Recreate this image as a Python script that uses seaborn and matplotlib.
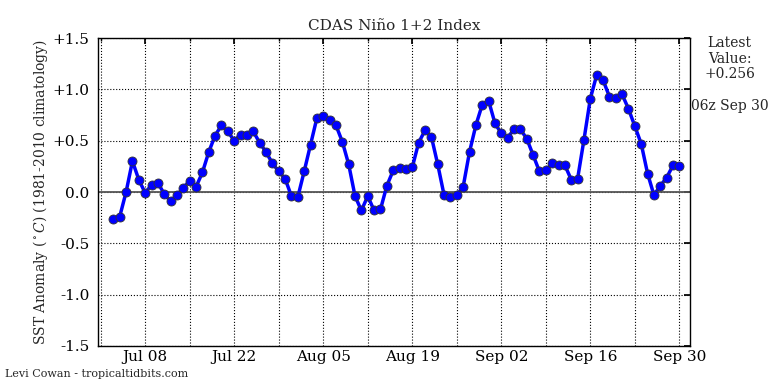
import numpy as np
import pandas as pd
import seaborn as sns
import matplotlib.pyplot as plt
import matplotlib.dates as mdates
import matplotlib.ticker as mticker

# daily Nino 1+2 anomalies, Jul 03 -> Sep 30
startDate = '2019-07-03'
anomaly = [-0.26, -0.24, 0.00, 0.30, 0.12, -0.01, 0.07, 0.09, -0.02, -0.09,
           -0.03, 0.04, 0.11, 0.05, 0.19, 0.39, 0.55, 0.65, 0.59, 0.50,
           0.56, 0.56, 0.59, 0.48, 0.39, 0.28, 0.20, 0.13, -0.04,
           -0.05, 0.20, 0.46, 0.72, 0.74, 0.70, 0.65, 0.49, 0.27, -0.04,
           -0.18, -0.04, -0.18, -0.17, 0.06, 0.21, 0.23, 0.22, 0.24, 0.48,
           0.60, 0.54, 0.27, -0.03, -0.05, -0.03, 0.05, 0.39, 0.65, 0.85,
           0.89,
           0.67, 0.57, 0.53, 0.61, 0.61, 0.52, 0.36, 0.20, 0.21, 0.28,
           0.26, 0.26, 0.12, 0.13, 0.51, 0.91, 1.14, 1.09, 0.93, 0.92,
           0.95, 0.81, 0.64, 0.47, 0.18, -0.03, 0.06, 0.14, 0.26, 0.256]
yTicks = [-1.5, -1.0, -0.5, 0.0, 0.5, 1.0, 1.5]
yTickLabels = ['-1.5', '-1.0', '-0.5', '0.0', '+0.5', '+1.0', '+1.5']
latestValue = '+0.256'
latestTime = '06z Sep 30'

df = pd.DataFrame({'date': pd.date_range(startDate, periods=len(anomaly), freq='D'),
                   'anomaly': anomaly})

sns.set_theme(style='white')
plt.rcParams['font.family'] = ['DejaVu Serif']
plt.rcParams['mathtext.fontset'] = 'dejavuserif'

fig = plt.figure(figsize=(7.68, 3.84), dpi=100)
ax = fig.add_axes([0.1276, 0.099, 0.7708, 0.802])

ax.axhline(0, color='#555555', lw=1.3, zorder=1)
sns.lineplot(data=df, x='date', y='anomaly', ax=ax, color='#0000ff', lw=2.5,
             marker='o', markersize=6.5, markerfacecolor='#0000ff',
             markeredgecolor='#333333', markeredgewidth=0.6, zorder=3)

ax.set_xlim(pd.Timestamp('2019-06-30 14:00'), pd.Timestamp('2019-10-01 16:00'))
ax.set_ylim(-1.5, 1.5)
ax.set_yticks(yTicks)
ax.set_yticklabels(yTickLabels)

# labelled ticks every 14 days from Jul 08, grid every 7 days
labelDates = pd.date_range('2019-07-08', '2019-09-30', freq='14D')
ax.set_xticks(labelDates)
ax.set_xticklabels([d.strftime('%b %d') for d in labelDates])
ax.set_xticks(pd.date_range('2019-07-01', '2019-10-01', freq='7D'), minor=True)
ax.yaxis.set_minor_locator(mticker.MultipleLocator(0.5))

ax.grid(True, which='both', axis='x', color='black', linestyle=':', lw=0.8)
ax.grid(True, which='major', axis='y', color='black', linestyle=':', lw=0.8)

ax.tick_params(axis='both', which='both', direction='in', top=True, right=True,
               labelsize=11, colors='black')
ax.tick_params(axis='x', pad=3)
ax.tick_params(axis='y', pad=6)
ax.tick_params(which='major', length=4)
ax.tick_params(which='minor', length=2)
for s in ax.spines.values():
    s.set_color('black')
    s.set_linewidth(1)

ax.set_xlabel('')
ax.set_ylabel(r'SST Anomaly ($^\circ C$) (1981-2010 climatology)', fontsize=10, labelpad=2)
ax.set_title('CDAS Niño 1+2 Index', fontsize=11)

fig.text(0.950, 0.905, 'Latest\nValue:\n' + latestValue, ha='center', va='top',
         fontsize=10, linespacing=1.1)
fig.text(0.950, 0.725, latestTime, ha='center', va='center', fontsize=10)
fig.text(0.006, 0.012, 'Levi Cowan - tropicaltidbits.com', ha='left', va='bottom',
         fontsize=8)

fig.savefig('out.png', dpi=100)
